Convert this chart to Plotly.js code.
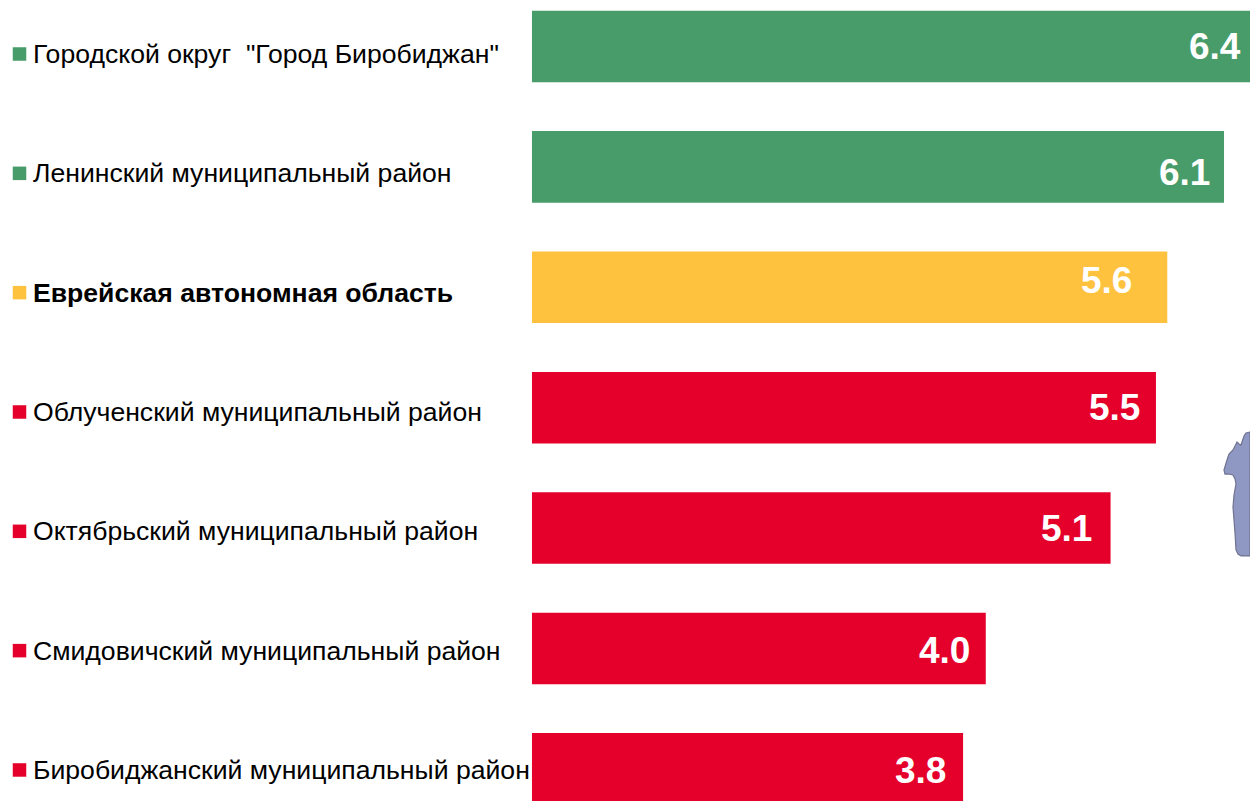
<!DOCTYPE html>
<html><head><meta charset="utf-8"><script src="https://cdn.plot.ly/plotly-3.0.1.min.js"></script>
<style>html,body{margin:0;padding:0;background:#fff;overflow:hidden}#c{width:1250px;height:801px}</style></head>
<body><div id="c"></div><script>
const categories=['Городской округ  "Город Биробиджан"','Ленинский муниципальный район','<b>Еврейская автономная область</b>','Облученский муниципальный район','Октябрьский муниципальный район','Смидовичский муниципальный район','Биробиджанский муниципальный район'];
const values=[6.4,6.1,5.6,5.5,5.1,4.0,3.8];
const colors=['#479C69','#479C69','#FFC23F','#E4002B','#E4002B','#E4002B','#E4002B'];
const valueInset=[9,14,35,16,19,16,17];
const valueNudge=[0,-6,7,0,0,-2,-2];
const mapX=[1250,1246,1244,1241,1239,1237,1235,1233,1229,1227,1224,1225,1229,1233,1235,1236,1234,1233,1234,1235,1236,1238,1241,1250];
const mapY=[432,433,436,445,444,442,446,450,454,460,470,474,474,475,479,484,495,507,520,533,550,554,556,556];
const W=1250,H=801;
const xMax=6.329;
const rows=categories.map((c,i)=>i);
const mapPath='M'+mapX.map((x,i)=>(x/W).toFixed(4)+','+(1-mapY[i]/H).toFixed(4)).join(' L')+' Z';
const data=[
 {type:'bar',orientation:'h',y:rows,x:values,width:0.594,marker:{color:colors,line:{width:0}},hoverinfo:'skip'},
 {type:'scatter',mode:'markers',yaxis:'y2',y:rows,x:rows.map(()=>-4.517),marker:{symbol:'square',size:13.5,color:colors,line:{width:0}},hoverinfo:'skip'}
];
const annotations=[
 ...categories.map((c,i)=>({xref:'x',yref:'y2',x:-4.398,y:i,xanchor:'left',yanchor:'middle',showarrow:false,borderpad:0,borderwidth:0,text:c,
   font:{family:'Liberation Sans, Arial, sans-serif',size:26.6,color:'#000'}})),
 ...values.map((v,i)=>({xref:'x',yref:'y',x:Math.min(v,xMax),y:i,xanchor:'right',yanchor:'middle',showarrow:false,borderpad:0,borderwidth:0,xshift:-valueInset[i],yshift:valueNudge[i],
   text:'<b>'+v.toFixed(1)+'</b>',font:{family:'Liberation Sans, Arial, sans-serif',size:37,color:'#fff'}}))
];
const layout={width:W,height:H,margin:{l:0,r:0,t:0,b:0},paper_bgcolor:'#fff',plot_bgcolor:'#fff',showlegend:false,
 xaxis:{range:[-4.689,xMax],visible:false,fixedrange:true},
 yaxis:{range:[6.267,-0.386],visible:false,fixedrange:true},
 yaxis2:{range:[6.26,-0.4525],overlaying:'y',visible:false,fixedrange:true},
 annotations,
 shapes:[{type:'path',xref:'paper',yref:'paper',path:mapPath,fillcolor:'#8F97C3',line:{color:'#6F7390',width:1.2},layer:'above'}]
};
Plotly.newPlot('c',data,layout,{displayModeBar:false,staticPlot:true});
</script></body></html>
